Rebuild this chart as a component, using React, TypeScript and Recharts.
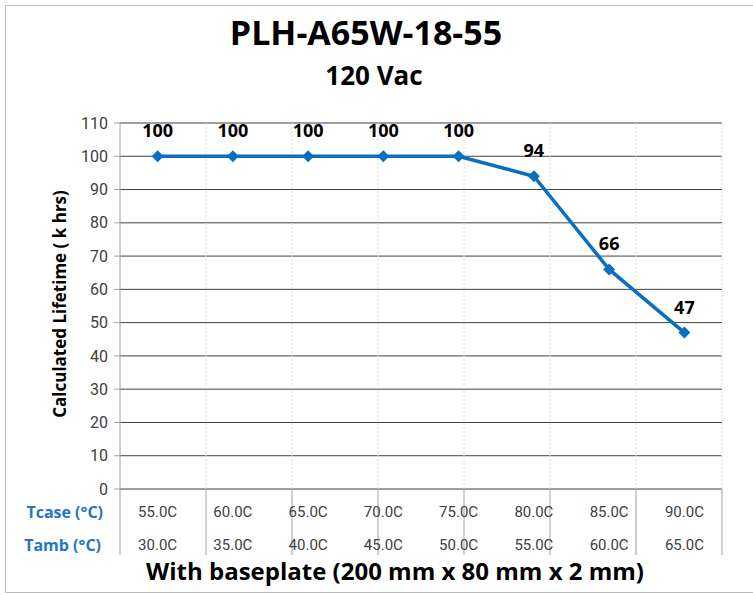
import React from 'react';
import {
    LineChart,
    Line,
    XAxis,
    YAxis,
    CartesianGrid,
    ReferenceLine,
    LabelList,
} from 'recharts';

// Chart values
const TCASE = ['55.0C', '60.0C', '65.0C', '70.0C', '75.0C', '80.0C', '85.0C', '90.0C'];
const TAMB = ['30.0C', '35.0C', '40.0C', '45.0C', '50.0C', '55.0C', '60.0C', '65.0C'];
const LIFETIME = [100, 100, 100, 100, 100, 94, 66, 47];
const Y_TICKS = [0, 10, 20, 30, 40, 50, 60, 70, 80, 90, 100, 110];
const BOUNDARIES = [0, 1, 2, 3, 4, 5, 6, 7, 8];

const data = TCASE.map((tcase, i) => ({ tcase, tamb: TAMB[i], life: LIFETIME[i] }));

const BLUE = '#0B6FC0';
const TICK_FONT = 'Roboto, "Noto Sans", sans-serif';
const BOLD_FONT = '"Open Sans", "Noto Sans", sans-serif';
const TABLE_H = 66;

const Diamond = (props: any) => {
    const { cx, cy } = props;
    if (cx == null || cy == null) return null;
    const r = 6;
    return (
        <polygon
            points={`${cx},${cy - r} ${cx + r},${cy} ${cx},${cy + r} ${cx - r},${cy}`}
            fill={BLUE}
        />
    );
};

const TableTick = (props: any) => {
    const { x, y, index } = props;
    return (
        <g>
            <text x={x} y={y + 23} textAnchor="middle" dominantBaseline="central"
                fontFamily={TICK_FONT} fontSize={15} fill="#404040">
                {TCASE[index]}
            </text>
            <text x={x} y={y + 56} textAnchor="middle" dominantBaseline="central"
                fontFamily={TICK_FONT} fontSize={15} fill="#404040">
                {TAMB[index]}
            </text>
        </g>
    );
};

// boundary line: faint dotted inside the plot, solid separator through the table
const BoundaryShape = (props: any) => {
    const { x1, y1, y2, last } = props;
    const top = Math.min(y1, y2);
    const bottom = Math.max(y1, y2);
    return (
        <g>
            {last ? (
                <line x1={x1} x2={x1} y1={top} y2={bottom} stroke="#b0b0b0" strokeWidth={1.5} />
            ) : x1 > 121 ? (
                <line x1={x1} x2={x1} y1={top} y2={bottom} stroke="#e0e0d0" strokeDasharray="2 2" />
            ) : null}
            <line x1={x1} x2={x1} y1={bottom} y2={bottom + TABLE_H} stroke="#a0a0a0" strokeWidth={1} />
        </g>
    );
};

const ValueLabel = (props: any) => {
    const { x, y, value } = props;
    return (
        <text x={x} y={y - 19} textAnchor="middle" fontFamily={BOLD_FONT}
            fontWeight={700} fontSize={18} fill="#000">
            {value}
        </text>
    );
};

export default function App() {
    return (
        <div style={{ position: 'absolute', left: 0, top: 0, width: 753, height: 595, background: '#fff', overflow: 'hidden' }}>
            <div style={{ position: 'absolute', left: 5, top: 5, width: 780, height: 586, border: '1px solid #bdbdbd' }} />
            <LineChart
                width={753}
                height={595}
                data={data}
                margin={{ top: 123, right: 31, bottom: 106 - TABLE_H, left: 0 }}
                style={{ position: 'absolute', left: 0, top: 0 }}
            >
                <CartesianGrid horizontal vertical={false} stroke="#404040" strokeWidth={1} />
                <XAxis dataKey="tcase" height={TABLE_H} tickSize={0} tickMargin={0} tickLine={false}
                    axisLine={{ stroke: '#a0a0a0' }} padding={{ left: 37.6, right: 37.6 }}
                    interval={0} tick={<TableTick />} />
                <XAxis xAxisId="sep" type="number" domain={[0, 8]} ticks={BOUNDARIES} hide />
                <YAxis width={120} domain={[0, 110]} ticks={Y_TICKS} interval={0}
                    tickSize={6} tickMargin={6} axisLine={{ stroke: '#a0a0a0' }}
                    tickLine={{ stroke: '#a0a0a0' }}
                    tick={{ fontFamily: TICK_FONT, fontSize: 16, fill: '#404040' }} />
                {BOUNDARIES.map((b, i) => (
                    <ReferenceLine key={b} xAxisId="sep" x={b} ifOverflow="visible"
                        shape={(p: any) => <BoundaryShape {...p} last={i === BOUNDARIES.length - 1} />} />
                ))}
                <Line
                    type="linear"
                    dataKey="life"
                    stroke={BLUE}
                    strokeWidth={3.5}
                    dot={<Diamond />}
                    activeDot={false}
                    isAnimationActive={false}
                >
                    <LabelList dataKey="life" content={<ValueLabel />} />
                </Line>
            </LineChart>
            <svg width={753} height={595} style={{ position: 'absolute', left: 0, top: 0, pointerEvents: 'none' }}>
                <text x={366} y={45} textAnchor="middle" fontFamily={BOLD_FONT} fontWeight={700}
                    fontSize={34} fill="#000">PLH-A65W-18-55</text>
                <text x={374} y={85} textAnchor="middle" fontFamily={BOLD_FONT} fontWeight={700}
                    fontSize={26} fill="#000">120 Vac</text>
                <text x={59} y={304} textAnchor="middle" dominantBaseline="central"
                    transform="rotate(-90 59 304)" fontFamily={BOLD_FONT} fontWeight={700}
                    fontSize={17} fill="#000">Calculated Lifetime ( k hrs)</text>
                <text x={103} y={512} textAnchor="end" dominantBaseline="central" fontFamily={BOLD_FONT}
                    fontWeight={700} fontSize={16} fill="#1F77C4">Tcase (°C)</text>
                <text x={101} y={545} textAnchor="end" dominantBaseline="central" fontFamily={BOLD_FONT}
                    fontWeight={700} fontSize={16} fill="#1F77C4">Tamb (°C)</text>
                <text x={395} y={580} textAnchor="middle" fontFamily={BOLD_FONT} fontWeight={700}
                    fontSize={24} fill="#000">With baseplate (200 mm x 80 mm x 2 mm)</text>
            </svg>
        </div>
    );
}
